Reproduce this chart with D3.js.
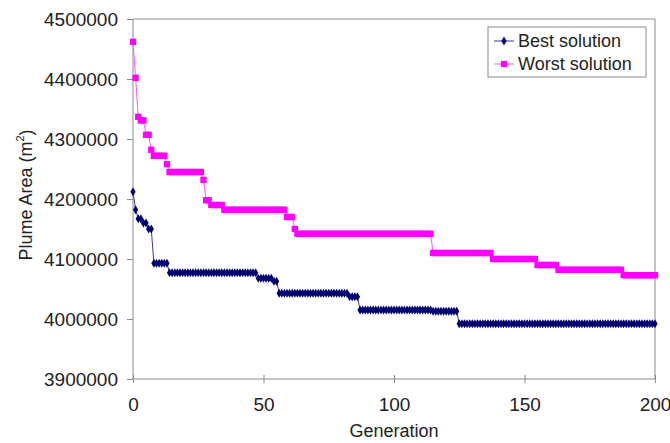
<!DOCTYPE html>
<html>
<head>
<meta charset="utf-8">
<script src="https://cdn.jsdelivr.net/npm/d3@7"></script>
<style>
  body { margin: 0; background: #fff; }
  text { font-family: "Liberation Sans", Arial, sans-serif; fill: #222; }
</style>
</head>
<body>
<div id="chart"></div>
<script>
// step data: generation where a new value starts, and that value
var bestGen = [0, 1, 2, 4, 6, 8, 14, 48, 54, 56, 83, 87, 115, 125];
var bestVal = [4212000, 4182000, 4167000, 4160000, 4150000, 4093000, 4077000,
  4068000, 4063000, 4043000, 4037000, 4015000, 4013000, 3992000];

var worstGen = [0, 1, 2, 3, 5, 7, 8, 13, 14, 27, 28, 30, 35, 59, 62, 63, 115, 138, 155, 163, 188];
var worstVal = [4462000, 4402000, 4337000, 4331000, 4307000, 4282000, 4272000, 4258000,
  4245000, 4232000, 4198000, 4190000, 4182000, 4170000, 4150000, 4142000,
  4110000, 4100000, 4090000, 4082000, 4073000];

var lastGen = 200;
var xTicks = [0, 50, 100, 150, 200];
var yTicks = [3900000, 4000000, 4100000, 4200000, 4300000, 4400000, 4500000];
var seriesNames = ['Best solution', 'Worst solution'];

var width = 670, height = 443,
  margin = {top: 19, right: 15, bottom: 64, left: 133},
  w = width - margin.left - margin.right,
  h = height - margin.top - margin.bottom,
  axisColor = '#8c8c8c';

// every generation keeps the value of the last step it belongs to
function expand(gens, vals) {
  var out = [];
  for (var g = 0; g <= lastGen; g++) {
    var i = d3.bisectRight(gens, g) - 1;
    out.push([g, vals[i]]);
  }
  return out;
}

var series = [
  {name: seriesNames[0], data: expand(bestGen, bestVal), color: '#000070', line: '#3a3a8a', shape: d3.symbolDiamond, size: 24},
  {name: seriesNames[1], data: expand(worstGen, worstVal), color: '#ff00ff', line: '#ff55ff', shape: d3.symbolSquare, size: 40}
];

var svg = d3.select('#chart').append('svg')
  .attr('width', width).attr('height', height);

var x = d3.scaleLinear().domain([0, 200]).range([0, w]);
var y = d3.scaleLinear().domain([3900000, 4500000]).range([h, 0]);

var g = svg.append('g')
  .attr('transform', 'translate(' + margin.left + ',' + margin.top + ')');

// plot area border (top, right)
g.append('path')
  .attr('d', 'M0,0H' + w + 'V' + h)
  .attr('fill', 'none')
  .attr('stroke', axisColor);

var yAxis = g.append('g')
  .call(d3.axisLeft(y).tickValues(yTicks).tickFormat(d3.format('d')).tickSize(6).tickPadding(9));
var xAxis = g.append('g')
  .attr('transform', 'translate(0,' + h + ')')
  .call(d3.axisBottom(x).tickValues(xTicks).tickSize(6).tickPadding(13));

// x ticks cross the axis line
xAxis.selectAll('.tick line').attr('y1', -4).attr('y2', 4);

[xAxis, yAxis].forEach(function(a) {
  a.select('.domain').attr('d', a === xAxis ? 'M0,0H' + w : 'M0,0V' + h);
  a.selectAll('path, line').attr('stroke', axisColor);
  a.selectAll('text').style('font-size', '19px').attr('fill', '#222');
});

var line = d3.line()
  .x(function(d) { return x(d[0]); })
  .y(function(d) { return y(d[1]); });

series.forEach(function(s) {
  g.append('path')
    .datum(s.data)
    .attr('d', line)
    .attr('fill', 'none')
    .attr('stroke', s.line)
    .attr('stroke-width', 1);
  g.append('g')
    .selectAll('path')
    .data(s.data)
    .enter()
    .append('path')
    .attr('d', d3.symbol().type(s.shape).size(s.size))
    .attr('transform', function(d) {
      return 'translate(' + x(d[0]) + ',' + y(d[1]) + ')';
    })
    .attr('fill', s.color);
});

// axis titles
svg.append('text')
  .attr('x', margin.left + w / 2)
  .attr('y', 437)
  .attr('text-anchor', 'middle')
  .style('font-size', '18px')
  .text('Generation');

var yt = svg.append('text')
  .attr('transform', 'translate(32,195) rotate(-90)')
  .attr('text-anchor', 'middle')
  .style('font-size', '18px');
yt.append('tspan').text('Plume Area (m');
yt.append('tspan').text('2').style('font-size', '11px').attr('dy', -8);
yt.append('tspan').text(')').attr('dy', 8);

// legend
var legend = svg.append('g').attr('transform', 'translate(488,27)');
legend.append('rect')
  .attr('width', 158).attr('height', 50)
  .attr('fill', '#fff')
  .attr('stroke', axisColor);

var item = legend.selectAll('.item')
  .data(series)
  .enter()
  .append('g')
  .attr('transform', function(d, i) { return 'translate(0,' + (14 + i * 23) + ')'; });

item.append('line')
  .attr('x1', 6).attr('x2', 26)
  .attr('stroke', function(d) { return d.line; });
item.append('path')
  .attr('d', function(d) { return d3.symbol().type(d.shape).size(d.size)(); })
  .attr('transform', 'translate(16,0)')
  .attr('fill', function(d) { return d.color; });
item.append('text')
  .attr('x', 30)
  .attr('dy', '0.35em')
  .style('font-size', '18px')
  .text(function(d) { return d.name; });
</script>
</body>
</html>
